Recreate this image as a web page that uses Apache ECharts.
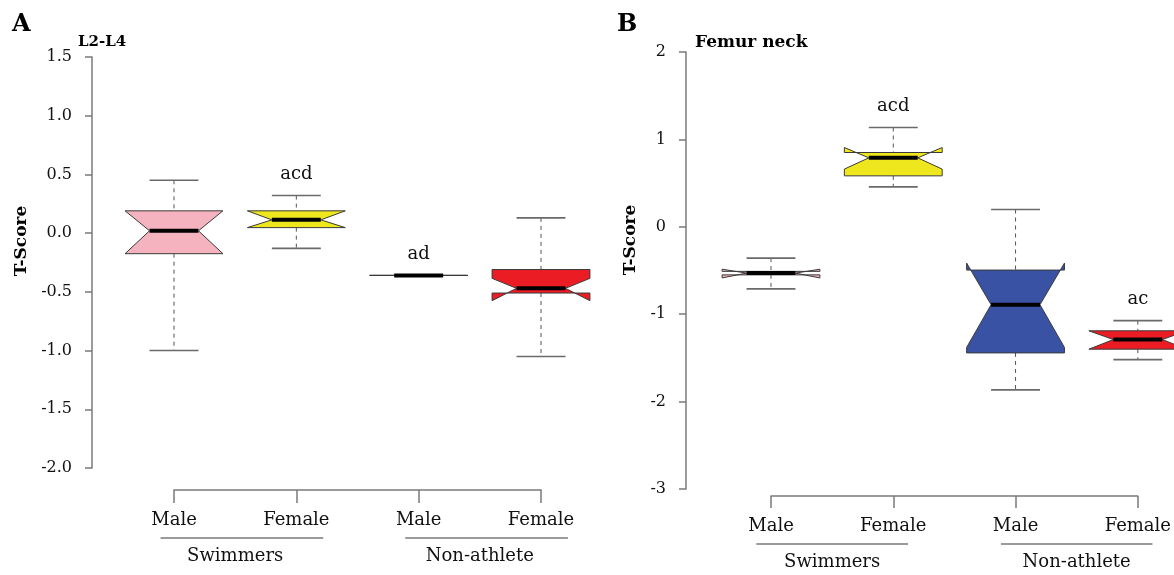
<!DOCTYPE html>
<html><head><meta charset="utf-8">
<script src="https://cdn.jsdelivr.net/npm/echarts@6/dist/echarts.min.js"></script>
<style>html,body{margin:0;padding:0;background:#fff}#c{width:1174px;height:575px}</style>
</head><body><div id="c"></div>
<script>
// ---------- data ----------
const categories = ['Male', 'Female', 'Male', 'Female'];
const groupNames = ['Swimmers', 'Non-athlete'];
const groupSpans = [[0, 1], [2, 3]];

// Panel A : L2-L4
const aTicks = ['-2.0', '-1.5', '-1.0', '-0.5', '0.0', '0.5', '1.0', '1.5'];
const aWhiskerLow  = [-1.00, -0.13, -0.36, -1.05];
const aQ1          = [-0.175, 0.047, -0.36, -0.51];
const aMedian      = [0.02, 0.113, -0.36, -0.47];
const aQ3          = [0.19, 0.19, -0.36, -0.31];
const aWhiskerHigh = [0.45, 0.32, -0.36, 0.13];
const aNotchLow    = [-0.175, 0.047, -0.36, -0.575];
const aNotchHigh   = [0.19, 0.19, -0.36, -0.385];
const aLetters     = ['', 'acd', 'ad', ''];

// Panel B : Femur neck
const bTicks = ['-3', '-2', '-1', '0', '1', '2'];
const bWhiskerLow  = [-0.71, 0.457, -1.866, -1.52];
const bQ1          = [-0.55, 0.583, -1.443, -1.40];
const bMedian      = [-0.53, 0.789, -0.891, -1.29];
const bQ3          = [-0.51, 0.85, -0.495, -1.19];
const bWhiskerHigh = [-0.358, 1.136, 0.198, -1.074];
const bNotchLow    = [-0.585, 0.66, -1.38, -1.40];
const bNotchHigh   = [-0.485, 0.907, -0.415, -1.19];
const bLetters     = ['', 'acd', '', 'ac'];

// ---------- styles ----------
const boxColors = ['#F4B3BE', '#EEE71E', '#3A52A3', '#EC1C24'];
const FONT = '"DejaVu Serif", serif';
const axisGray = '#7a7a7a';

function boxData(wl, q1, med, q3, wh, nl, nh) {
  return categories.map((c, i) => [i, wl[i], q1[i], med[i], q3[i], wh[i], nl[i], nh[i]]);
}

function boxRender(letters) {
  return function (params, api) {
    const i = api.value(0);
    const cx = api.coord([i, 0])[0];
    const step = api.coord([1, 0])[0] - api.coord([0, 0])[0];
    const hw = 0.4 * step, nw = 0.5 * hw, sw = 0.5 * hw;
    const Y = v => api.coord([i, v])[1];
    const wl = Y(api.value(1)), q1 = Y(api.value(2)), md = Y(api.value(3)),
          q3 = Y(api.value(4)), wh = Y(api.value(5)), nl = Y(api.value(6)), nh = Y(api.value(7));
    const dash = { stroke: '#555', lineWidth: 1, lineDash: [4, 4] };
    const cap = { stroke: '#6a6a6a', lineWidth: 1.6 };
    const children = [
      { type: 'line', shape: { x1: cx, y1: wh, x2: cx, y2: q3 }, style: dash },
      { type: 'line', shape: { x1: cx, y1: q1, x2: cx, y2: wl }, style: dash },
      { type: 'line', shape: { x1: cx - sw, y1: wh, x2: cx + sw, y2: wh }, style: cap },
      { type: 'line', shape: { x1: cx - sw, y1: wl, x2: cx + sw, y2: wl }, style: cap },
      { type: 'polygon', shape: { points: [
          [cx - hw, q1], [cx - hw, nl], [cx - nw, md], [cx - hw, nh], [cx - hw, q3],
          [cx + hw, q3], [cx + hw, nh], [cx + nw, md], [cx + hw, nl], [cx + hw, q1]] },
        style: { fill: boxColors[i], stroke: '#3a3a3a', lineWidth: 1 } },
      { type: 'line', shape: { x1: cx - nw, y1: md, x2: cx + nw, y2: md }, style: { stroke: '#000', lineWidth: 4 } }
    ];
    const t = letters[params.dataIndex];
    if (t) children.push({ type: 'text', style: { text: t, x: cx, y: wh - 21, align: 'center', verticalAlign: 'middle',
      textAlign: 'center', textVerticalAlign: 'middle', font: '18px ' + FONT, fill: '#111' } });
    return { type: 'group', children };
  };
}

function bracketRender(axisOffset, padL, padR) {
  return function (params, api) {
    const s0 = api.value(0), s1 = api.value(1), ymin = api.value(2);
    const p0 = api.coord([s0, ymin]), p1 = api.coord([s1, ymin]);
    const step = api.coord([1, ymin])[0] - api.coord([0, ymin])[0];
    const yLine = p0[1] + axisOffset + 48;
    return { type: 'group', children: [
      { type: 'line', shape: { x1: p0[0] - padL * step, y1: yLine, x2: p1[0] + padR * step, y2: yLine },
        style: { stroke: axisGray, lineWidth: 1.5 } },
      { type: 'text', style: { text: groupNames[params.dataIndex], x: (p0[0] + p1[0]) / 2, y: yLine + 18,
        align: 'center', verticalAlign: 'middle', textAlign: 'center', textVerticalAlign: 'middle',
        font: '18px ' + FONT, fill: '#111' } }
    ] };
  };
}

function yAxisFor(ticks, gridIndex, offset) {
  const vals = ticks.map(Number);
  return {
    type: 'value', gridIndex, min: vals[0], max: vals[vals.length - 1], interval: vals[1] - vals[0],
    offset, axisLine: { show: true, onZero: false, lineStyle: { color: axisGray, width: 1.5 } },
    axisTick: { show: true, length: 7, lineStyle: { color: axisGray, width: 1.5 } },
    splitLine: { show: false },
    axisLabel: { margin: 20, color: '#111', fontSize: 16, fontFamily: FONT,
      formatter: v => { const k = vals.findIndex(t => Math.abs(t - v) < 1e-9); return k >= 0 ? ticks[k] : ''; } }
  };
}
function xAxisFor(gridIndex, offset, tickLen) {
  return {
    type: 'category', gridIndex, data: categories, boundaryGap: false, offset, position: 'bottom',
    axisLine: { show: true, onZero: false, lineStyle: { color: axisGray, width: 1.5 } },
    axisTick: { show: true, length: tickLen, lineStyle: { color: axisGray, width: 1.5 } },
    splitLine: { show: false },
    axisLabel: { margin: 21, color: '#111', fontSize: 18, fontFamily: FONT, interval: 0 }
  };
}

const chart = echarts.init(document.getElementById('c'), null, { renderer: 'canvas' });
chart.setOption({
  animation: false,
  backgroundColor: '#fff',
  grid: [
    { left: 174, right: 633, top: 57, bottom: 107 },
    { left: 771, right: 15, top: 52, bottom: 86 }
  ],
  xAxis: [xAxisFor(0, 22, 13), xAxisFor(1, 7, 12)],
  yAxis: [yAxisFor(aTicks, 0, 82), yAxisFor(bTicks, 1, 85)],
  series: [
    { type: 'custom', xAxisIndex: 0, yAxisIndex: 0, clip: false, renderItem: boxRender(aLetters),
      encode: { x: 0, y: [1, 2, 3, 4, 5] },
      data: boxData(aWhiskerLow, aQ1, aMedian, aQ3, aWhiskerHigh, aNotchLow, aNotchHigh) },
    { type: 'custom', xAxisIndex: 1, yAxisIndex: 1, clip: false, renderItem: boxRender(bLetters),
      encode: { x: 0, y: [1, 2, 3, 4, 5] },
      data: boxData(bWhiskerLow, bQ1, bMedian, bQ3, bWhiskerHigh, bNotchLow, bNotchHigh) },
    { type: 'custom', xAxisIndex: 0, yAxisIndex: 0, clip: false, renderItem: bracketRender(22, 0.11, 0.22),
      encode: { x: [0, 1], y: 2 }, data: groupSpans.map(s => [s[0], s[1], Number(aTicks[0])]) },
    { type: 'custom', xAxisIndex: 1, yAxisIndex: 1, clip: false, renderItem: bracketRender(7, 0.12, 0.12),
      encode: { x: [0, 1], y: 2 }, data: groupSpans.map(s => [s[0], s[1], Number(bTicks[0])]) }
  ],
  graphic: [
    { type: 'text', left: 12, top: 13, style: { text: 'A', font: 'bold 24px ' + FONT, fill: '#000' } },
    { type: 'text', left: 617, top: 13, style: { text: 'B', font: 'bold 24px ' + FONT, fill: '#000' } },
    { type: 'text', left: 78, top: 35, style: { text: 'L2-L4', font: 'bold 15px ' + FONT, fill: '#000' } },
    { type: 'text', left: 695, top: 34, style: { text: 'Femur neck', font: 'bold 17px ' + FONT, fill: '#000' } },
    { type: 'text', x: 22, y: 241, rotation: Math.PI / 2, style: { text: 'T-Score', font: 'bold 17px ' + FONT,
      fill: '#000', align: 'center', verticalAlign: 'middle' } },
    { type: 'text', x: 631, y: 240, rotation: Math.PI / 2, style: { text: 'T-Score', font: 'bold 17px ' + FONT,
      fill: '#000', align: 'center', verticalAlign: 'middle' } }
  ]
});
</script>
</body></html>
